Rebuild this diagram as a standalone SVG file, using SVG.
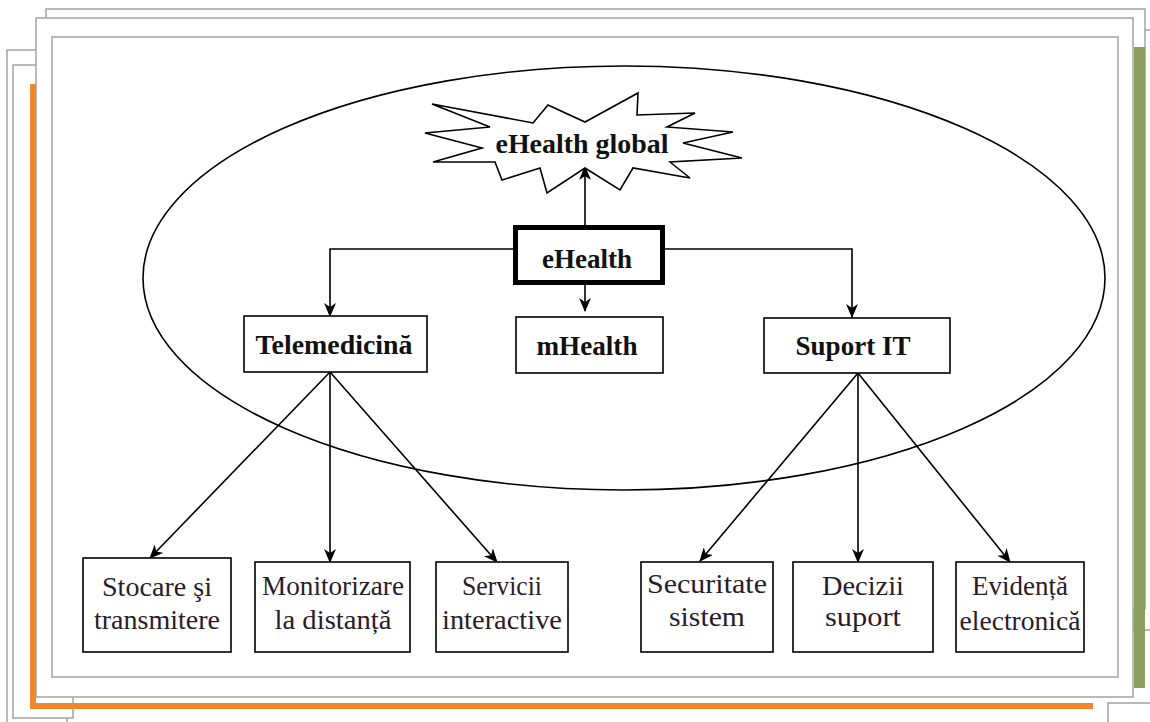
<svg xmlns="http://www.w3.org/2000/svg" width="1150" height="722" viewBox="0 0 1150 722">
  <style>
    .page { fill: #ffffff; stroke: #a3a3a3; stroke-width: 1.5; }
    .box { fill: #ffffff; stroke: #000000; stroke-width: 1.6; }
    .lbl { font-family: "Liberation Serif", "Times New Roman", serif; font-weight: bold; font-size: 27px; fill: #111111; text-anchor: middle; }
    .sub { font-family: "Liberation Serif", "Times New Roman", serif; font-size: 28px; fill: #2a1b2c; text-anchor: middle; }
    .conn { fill: none; stroke: #000000; stroke-width: 1.6; }
  </style>
  <defs>
    <marker id="arr" viewBox="0 0 14 12" refX="13" refY="6" markerWidth="14" markerHeight="12" markerUnits="userSpaceOnUse" orient="auto">
      <path d="M0,0 L14,6 L0,12 L4,6 z" fill="#000000"/>
    </marker>
  </defs>

  <!-- background pages -->
  <g id="pages">
    <rect x="0" y="0" width="1150" height="722" fill="#ffffff"/>
    <rect class="page" x="7" y="50" width="60" height="690"/>
    <rect class="page" x="13" y="65" width="60" height="653"/>
    <rect class="page" x="1133" y="30" width="40" height="600"/>
    <rect class="page" x="1108" y="703" width="60" height="40"/>
    <rect class="page" x="46" y="9" width="1099" height="600"/>
    <rect x="30" y="84" width="6" height="625" fill="#f0862e"/>
    <rect x="30" y="703" width="1063" height="6" fill="#f0862e"/>
    <rect x="1134" y="47" width="11" height="641" fill="#8c9e5e"/>
    <rect class="page" x="36" y="18" width="1097" height="679"/>
    <rect class="page" x="52" y="37" width="1066" height="640"/>
  </g>

  <g id="ellipse">
    <ellipse cx="624" cy="278" rx="481" ry="212" fill="none" stroke="#000000" stroke-width="1.6"/>
  </g>

  <g id="connectors">
    <line class="conn" x1="585" y1="227" x2="585" y2="167" marker-end="url(#arr)"/>
    <polyline class="conn" points="515,249 330,249 330,316" marker-end="url(#arr)"/>
    <polyline class="conn" points="663,249 852,249 852,317" marker-end="url(#arr)"/>
    <line class="conn" x1="585" y1="285" x2="585" y2="311" marker-end="url(#arr)"/>
    <line class="conn" x1="330" y1="372" x2="150" y2="558" marker-end="url(#arr)"/>
    <line class="conn" x1="330" y1="372" x2="330" y2="562" marker-end="url(#arr)"/>
    <line class="conn" x1="330" y1="372" x2="497" y2="562" marker-end="url(#arr)"/>
    <line class="conn" x1="858" y1="373" x2="700" y2="561" marker-end="url(#arr)"/>
    <line class="conn" x1="858" y1="373" x2="858" y2="562" marker-end="url(#arr)"/>
    <line class="conn" x1="858" y1="373" x2="1010" y2="562" marker-end="url(#arr)"/>
  </g>

  <g id="ehealth-global">
    <polygon points="432,104 533,123 548,105 585,122 638,93 637,115 695,113 667,127 733,132 683,143 742,158 670,162 690,178 633,168 620,190 585,168 547,193 540,168 502,180 495,162 433,162 482,148 425,133 490,127" fill="#ffffff" stroke="#000000" stroke-width="1.6"/>
    <text class="lbl" x="582" y="153" textLength="173" lengthAdjust="spacingAndGlyphs">eHealth global</text>
  </g>

  <g id="ehealth">
    <rect x="515.5" y="227.5" width="147" height="55" fill="#ffffff" stroke="#000000" stroke-width="5"/>
    <text class="lbl" x="587" y="268" textLength="90" lengthAdjust="spacingAndGlyphs">eHealth</text>
  </g>

  <g id="telemedicina">
    <rect class="box" x="244" y="316" width="183" height="56"/>
    <text class="lbl" x="334" y="354" textLength="157" lengthAdjust="spacingAndGlyphs">Telemedicină</text>
  </g>

  <g id="mhealth">
    <rect class="box" x="516" y="317" width="147" height="56"/>
    <text class="lbl" x="587" y="355" textLength="101" lengthAdjust="spacingAndGlyphs">mHealth</text>
  </g>

  <g id="suport-it">
    <rect class="box" x="764" y="318" width="186" height="55"/>
    <text class="lbl" x="853" y="355" textLength="115" lengthAdjust="spacingAndGlyphs">Suport IT</text>
  </g>

  <g id="stocare">
    <rect class="box" x="83" y="558" width="148" height="94"/>
    <text class="sub" x="157" y="596" textLength="110" lengthAdjust="spacingAndGlyphs">Stocare şi</text>
    <text class="sub" x="157" y="629" textLength="126" lengthAdjust="spacingAndGlyphs">transmitere</text>
  </g>

  <g id="monitorizare">
    <rect class="box" x="255" y="562" width="155" height="90"/>
    <text class="sub" x="333" y="595" textLength="142" lengthAdjust="spacingAndGlyphs">Monitorizare</text>
    <text class="sub" x="333" y="629" textLength="117" lengthAdjust="spacingAndGlyphs">la distanță</text>
  </g>

  <g id="servicii">
    <rect class="box" x="436" y="562" width="132" height="90"/>
    <text class="sub" x="502" y="595" textLength="80" lengthAdjust="spacingAndGlyphs">Servicii</text>
    <text class="sub" x="502" y="629" textLength="120" lengthAdjust="spacingAndGlyphs">interactive</text>
  </g>

  <g id="securitate">
    <rect class="box" x="641" y="562" width="132" height="90"/>
    <text class="sub" x="707" y="593" textLength="120" lengthAdjust="spacingAndGlyphs">Securitate</text>
    <text class="sub" x="707" y="626" textLength="76" lengthAdjust="spacingAndGlyphs">sistem</text>
  </g>

  <g id="decizii">
    <rect class="box" x="793" y="562" width="140" height="90"/>
    <text class="sub" x="863" y="595" textLength="82" lengthAdjust="spacingAndGlyphs">Decizii</text>
    <text class="sub" x="863" y="626" textLength="76" lengthAdjust="spacingAndGlyphs">suport</text>
  </g>

  <g id="evidenta">
    <rect class="box" x="956" y="562" width="128" height="90"/>
    <text class="sub" x="1020" y="595" textLength="96" lengthAdjust="spacingAndGlyphs">Evidență</text>
    <text class="sub" x="1020" y="630" textLength="121" lengthAdjust="spacingAndGlyphs">electronică</text>
  </g>
</svg>
